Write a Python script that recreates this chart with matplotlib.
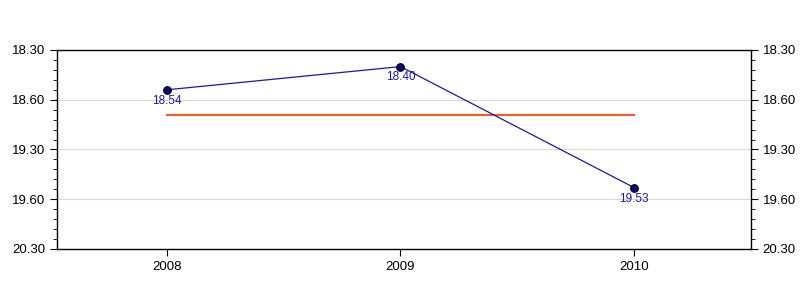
import numpy as np
import matplotlib.pyplot as plt
from matplotlib.ticker import MultipleLocator

plt.rcParams['font.family'] = ['Liberation Sans', 'DejaVu Sans']

# dados (tempos em minutos.segundos)
years = ['2008', '2009', '2010']
times = ['18.54', '18.40', '19.53']
tick_labels = ['18.30', '18.60', '19.30', '19.60', '20.30']
tick_secs = [1110, 1140, 1170, 1200, 1230]


def to_secs(s):
    m, sec = s.split('.')
    return int(m) * 60 + int(sec)


secs = np.array([to_secs(t) for t in times])
x = np.arange(len(years))
media = secs.mean()

fig = plt.figure(figsize=(8, 3), dpi=100)
ax = fig.add_axes([57 / 800, 51 / 300, 694 / 800, 199 / 300])

ax.plot(x, secs, color='#1a1aa6', lw=0.9, zorder=3)
ax.plot(x, secs, 'o', ms=5.5, mfc='#0a0a7a', mec='black', mew=0.8, zorder=4)
ax.plot([x[0], x[-1]], [media, media], color='#ff5a1e', lw=1.5, zorder=2)

for xi, yi, t in zip(x, secs, times):
    ax.annotate(t, (xi, yi), xytext=(0, -3.5), textcoords='offset points',
                ha='center', va='top', fontsize=8.5, color='#1a1aa6')

ax.set_xlim(-0.47, 2.5)
ax.set_ylim(1230, 1110)
ax.set_xticks(x)
ax.set_xticklabels(years)
ax.set_yticks(tick_secs)
ax.set_yticklabels(tick_labels)
ax.yaxis.set_minor_locator(MultipleLocator(6))
ax.tick_params(axis='y', which='both', left=True, right=True,
               labelleft=True, labelright=True, direction='out')
ax.tick_params(axis='y', which='major', length=5, labelsize=9.5)
ax.tick_params(axis='y', which='minor', length=3)
ax.tick_params(axis='x', length=5, labelsize=9.5)
ax.grid(axis='y', color='#d9d9d9', lw=0.8)
ax.set_axisbelow(True)
for s in ax.spines.values():
    s.set_linewidth(1)

plt.savefig('out.png', dpi=100)
plt.close()
